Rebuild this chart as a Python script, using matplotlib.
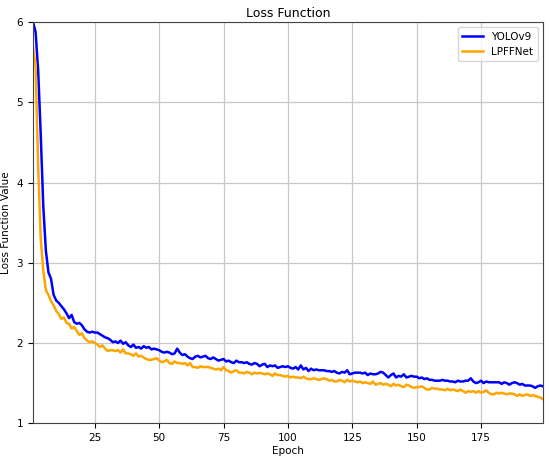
import numpy as np
import matplotlib
matplotlib.use("Agg")
import matplotlib.pyplot as plt

# per-epoch loss values
yolo_loss = [
    6.00, 5.88, 5.40, 4.60, 3.70, 3.15, 2.88, 2.80, 2.60, 2.53,
    2.50, 2.46, 2.42, 2.37, 2.31, 2.35, 2.26, 2.24, 2.25, 2.22,
    2.17, 2.14, 2.13, 2.14, 2.13, 2.13, 2.11, 2.09, 2.07, 2.06,
    2.04, 2.01, 2.02, 2.00, 2.03, 1.99, 2.01, 1.97, 1.95, 1.98,
    1.94, 1.95, 1.93, 1.96, 1.94, 1.95, 1.92, 1.93, 1.92, 1.91,
    1.89, 1.88, 1.89, 1.88, 1.86, 1.87, 1.93, 1.88, 1.85, 1.86,
    1.83, 1.81, 1.80, 1.83, 1.84, 1.82, 1.83, 1.84, 1.81, 1.80,
    1.82, 1.80, 1.78, 1.79, 1.80, 1.77, 1.78, 1.76, 1.75, 1.78,
    1.76, 1.76, 1.75, 1.76, 1.74, 1.73, 1.75, 1.74, 1.71, 1.73,
    1.74, 1.70, 1.72, 1.71, 1.72, 1.69, 1.70, 1.71, 1.70, 1.71,
    1.69, 1.68, 1.70, 1.67, 1.72, 1.67, 1.69, 1.65, 1.68, 1.66,
    1.67, 1.66, 1.66, 1.66, 1.65, 1.65, 1.64, 1.65, 1.63, 1.62,
    1.64, 1.63, 1.66, 1.61, 1.62, 1.63, 1.63, 1.63, 1.62, 1.63,
    1.60, 1.62, 1.61, 1.61, 1.62, 1.64, 1.63, 1.60, 1.57, 1.60,
    1.62, 1.57, 1.59, 1.58, 1.61, 1.57, 1.58, 1.59, 1.58, 1.58,
    1.56, 1.57, 1.55, 1.56, 1.54, 1.54, 1.53, 1.53, 1.53, 1.54,
    1.53, 1.53, 1.52, 1.52, 1.51, 1.53, 1.52, 1.52, 1.53, 1.53,
    1.56, 1.52, 1.50, 1.51, 1.53, 1.50, 1.52, 1.51, 1.51, 1.51,
    1.51, 1.51, 1.49, 1.51, 1.50, 1.48, 1.50, 1.51, 1.50, 1.48,
    1.49, 1.47, 1.47, 1.47, 1.46, 1.44, 1.46, 1.47, 1.46,
]

lpffnet_loss = [
    5.70, 5.45, 4.20, 3.30, 2.90, 2.66, 2.60, 2.52, 2.47, 2.40,
    2.36, 2.30, 2.32, 2.25, 2.24, 2.18, 2.20, 2.15, 2.10, 2.12,
    2.06, 2.03, 2.01, 2.02, 2.00, 1.98, 1.95, 1.97, 1.93, 1.90,
    1.91, 1.91, 1.90, 1.91, 1.88, 1.92, 1.87, 1.87, 1.86, 1.84,
    1.87, 1.83, 1.84, 1.82, 1.80, 1.79, 1.79, 1.80, 1.81, 1.78,
    1.76, 1.77, 1.79, 1.75, 1.74, 1.77, 1.75, 1.75, 1.74, 1.75,
    1.72, 1.75, 1.70, 1.70, 1.69, 1.71, 1.70, 1.70, 1.70, 1.69,
    1.68, 1.67, 1.68, 1.66, 1.70, 1.66, 1.65, 1.63, 1.65, 1.66,
    1.63, 1.63, 1.62, 1.64, 1.63, 1.61, 1.63, 1.62, 1.63, 1.62,
    1.61, 1.62, 1.61, 1.59, 1.62, 1.60, 1.60, 1.59, 1.58, 1.59,
    1.57, 1.58, 1.57, 1.57, 1.56, 1.58, 1.56, 1.55, 1.55, 1.56,
    1.55, 1.54, 1.55, 1.56, 1.55, 1.53, 1.54, 1.52, 1.52, 1.54,
    1.53, 1.51, 1.54, 1.52, 1.53, 1.52, 1.51, 1.52, 1.50, 1.51,
    1.50, 1.49, 1.52, 1.48, 1.49, 1.50, 1.48, 1.49, 1.48, 1.46,
    1.49, 1.47, 1.48, 1.46, 1.45, 1.48, 1.47, 1.45, 1.44, 1.45,
    1.45, 1.46, 1.44, 1.42, 1.42, 1.44, 1.43, 1.43, 1.42, 1.42,
    1.41, 1.43, 1.41, 1.42, 1.41, 1.40, 1.42, 1.40, 1.38, 1.40,
    1.39, 1.40, 1.38, 1.40, 1.38, 1.39, 1.41, 1.38, 1.36, 1.36,
    1.38, 1.37, 1.38, 1.37, 1.36, 1.37, 1.37, 1.36, 1.34, 1.36,
    1.34, 1.35, 1.36, 1.34, 1.35, 1.34, 1.33, 1.32, 1.30,
]

epochs = np.arange(1, len(yolo_loss) + 1)
xticks = [25, 50, 75, 100, 125, 150, 175]
yticks = [1, 2, 3, 4, 5, 6]

fig = plt.figure(figsize=(5.5, 4.61), dpi=100)
ax = fig.add_axes([0.06, 0.082, 0.927, 0.870])

ax.plot(epochs, yolo_loss, color='blue', linewidth=1.8, label='YOLOv9')
ax.plot(epochs, lpffnet_loss, color='orange', linewidth=1.8, label='LPFFNet')

ax.set_xlim(1, 199)
ax.set_ylim(1, 6)
ax.set_xticks(xticks)
ax.set_yticks(yticks)
ax.tick_params(labelsize=7.5)
ax.grid(True, color='#c8c8c8', linewidth=0.9)

ax.set_title('Loss Function', fontsize=9, pad=4)
ax.set_xlabel('Epoch', fontsize=7.5, labelpad=2)
ax.set_ylabel('Loss Function Value', fontsize=7.5, labelpad=4)
ax.legend(loc='upper right', fontsize=7.5)

for s in ax.spines.values():
    s.set_color('#444444')

fig.savefig('out.png', dpi=100)
